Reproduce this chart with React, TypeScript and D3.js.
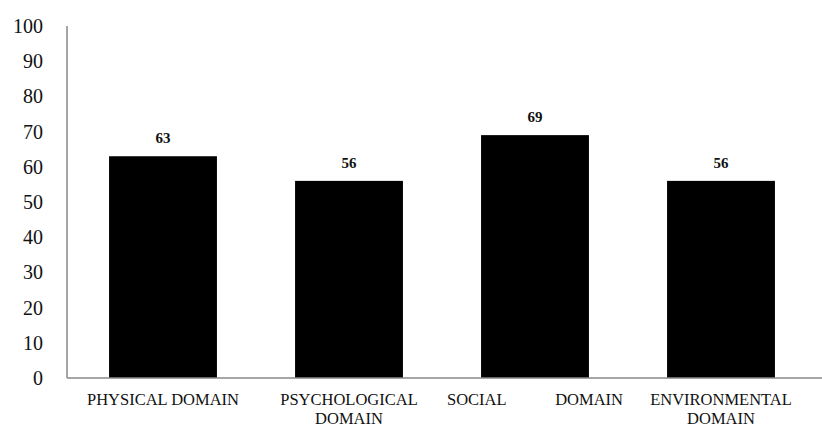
import React, { useEffect, useRef } from 'react';
import * as d3 from 'd3';

const categories = ['PHYSICAL DOMAIN', 'PSYCHOLOGICAL DOMAIN', 'SOCIAL DOMAIN', 'ENVIRONMENTAL DOMAIN'];
const labelLines = [['PHYSICAL DOMAIN'], ['PSYCHOLOGICAL', 'DOMAIN'], ['SOCIAL', 'DOMAIN'], ['ENVIRONMENTAL', 'DOMAIN']];
const values = [63, 56, 69, 56];
const yTicks = [0, 10, 20, 30, 40, 50, 60, 70, 80, 90, 100];

export default function App() {
    const ref = useRef<SVGSVGElement>(null);

    useEffect(() => {
        if (!ref.current) return;
        const svg = d3.select(ref.current);
        svg.selectAll('*').remove();

        const width = 822;
        const height = 428;
        const font = '"Liberation Serif", "DejaVu Serif", serif';

        const x = d3.scaleBand()
            .domain(categories)
            .range([70, 814])
            .paddingInner(0.42)
            .paddingOuter(0.21);

        const y = d3.scaleLinear()
            .domain([0, 100])
            .range([378, 26]);

        // tick labels
        svg.append('g')
            .selectAll('text')
            .data(yTicks)
            .enter()
            .append('text')
            .attr('x', 43)
            .attr('y', d => y(d))
            .attr('dy', '0.35em')
            .attr('text-anchor', 'end')
            .attr('font-family', font)
            .attr('font-size', 20)
            .attr('fill', '#111')
            .text(d => d);

        // bars
        svg.append('g')
            .selectAll('rect')
            .data(values)
            .enter()
            .append('rect')
            .attr('x', (d, i) => x(categories[i])!)
            .attr('y', d => y(d))
            .attr('width', x.bandwidth())
            .attr('height', d => y(0) - y(d))
            .attr('fill', '#000');

        // value labels
        svg.append('g')
            .selectAll('text')
            .data(values)
            .enter()
            .append('text')
            .attr('x', (d, i) => x(categories[i])! + x.bandwidth() / 2)
            .attr('y', d => y(d) - 13)
            .attr('text-anchor', 'middle')
            .attr('font-family', font)
            .attr('font-weight', 'bold')
            .attr('font-size', 15)
            .attr('fill', '#111')
            .text(d => d);

        // axes lines
        svg.append('line')
            .attr('x1', 67).attr('x2', 67)
            .attr('y1', y(100)).attr('y2', y(0))
            .attr('stroke', '#888').attr('stroke-width', 1.5);
        svg.append('line')
            .attr('x1', 67).attr('x2', width)
            .attr('y1', y(0)).attr('y2', y(0))
            .attr('stroke', '#888').attr('stroke-width', 1.5);

        // category labels
        const lab = svg.append('g')
            .attr('font-family', font)
            .attr('font-size', 16.5)
            .attr('fill', '#111');
        categories.forEach((c, i) => {
            const cx = x(c)! + x.bandwidth() / 2;
            const lines = labelLines[i];
            if (c === 'SOCIAL DOMAIN') {
                // justified across the band
                lab.append('text').attr('x', cx - 88).attr('y', 405)
                    .attr('text-anchor', 'start').text(lines[0]);
                lab.append('text').attr('x', cx + 88).attr('y', 405)
                    .attr('text-anchor', 'end').text(lines[1]);
                return;
            }
            lines.forEach((l, j) => {
                lab.append('text')
                    .attr('x', cx)
                    .attr('y', 405 + j * 19)
                    .attr('text-anchor', 'middle')
                    .text(l);
            });
        });

        svg.attr('width', width).attr('height', height);
    }, []);

    return <svg ref={ref} style={{ position: 'absolute', left: 0, top: 0, background: '#fff' }} />;
}
